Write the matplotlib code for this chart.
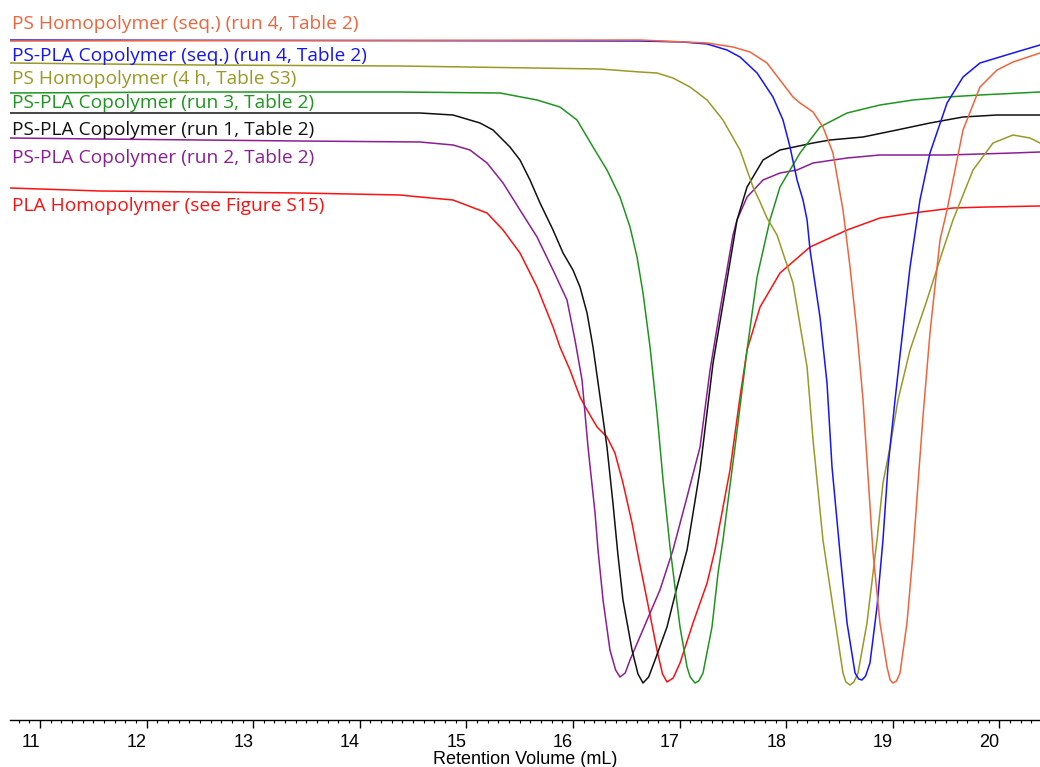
import numpy as np
import matplotlib
matplotlib.use('Agg')
import matplotlib.pyplot as plt
from matplotlib.ticker import MultipleLocator

# retention volume (mL) and detector signal (a.u.)
pla_vol = [10.719, 11.563, 12.501, 13.439, 14.377, 14.565, 14.875, 15.194, 15.344, 15.503, 15.663, 15.813,
           15.878, 15.972, 16.066, 16.132, 16.226, 16.319, 16.394, 16.469, 16.554, 16.610, 16.695, 16.788,
           16.840, 16.882, 16.940, 17.004, 17.126, 17.258, 17.332, 17.473, 17.567, 17.633, 17.755, 17.942,
           18.224, 18.571, 18.880, 19.190, 19.565, 19.884, 20.381]
pla_sig = [53.2, 52.9, 52.8, 52.7, 52.5, 52.3, 52.0, 50.7, 49.0, 46.7, 43.3, 39.3,
           37.3, 35.0, 32.3, 31.0, 29.3, 28.3, 26.7, 23.7, 19.7, 16.5, 12.0, 7.0,
           4.6, 3.8, 4.2, 5.7, 9.7, 13.7, 17.0, 25.0, 32.3, 37.0, 41.3, 44.7,
           47.3, 49.0, 50.2, 50.7, 51.2, 51.3, 51.4]

run2_vol = [10.719, 11.563, 12.501, 13.439, 14.565, 14.875, 15.034, 15.194, 15.344, 15.503, 15.663, 15.813,
            15.944, 16.019, 16.085, 16.141, 16.207, 16.235, 16.282, 16.347, 16.400, 16.441, 16.490, 16.535,
            16.695, 16.816, 16.938, 17.070, 17.192, 17.286, 17.379, 17.501, 17.539, 17.633, 17.783, 17.942,
            18.102, 18.252, 18.571, 18.880, 19.509, 20.128, 20.381]
run2_sig = [58.2, 58.1, 58.0, 57.9, 57.8, 57.5, 57.0, 55.7, 53.7, 51.0, 48.3, 45.0,
            42.0, 38.0, 34.0, 27.3, 20.7, 17.0, 12.0, 7.0, 5.0, 4.3, 4.7, 6.0,
            10.0, 13.0, 17.0, 22.3, 27.3, 35.0, 41.0, 48.5, 50.0, 52.3, 54.0, 54.7,
            55.0, 55.7, 56.2, 56.5, 56.5, 56.7, 56.8]

run1_vol = [10.719, 12.501, 14.565, 14.875, 15.128, 15.250, 15.409, 15.503, 15.597, 15.691, 15.813, 15.907,
            16.000, 16.066, 16.132, 16.188, 16.254, 16.319, 16.375, 16.422, 16.469, 16.554, 16.610, 16.657,
            16.710, 16.770, 16.882, 16.976, 17.070, 17.192, 17.314, 17.445, 17.539, 17.633, 17.783, 17.942,
            18.252, 18.411, 18.721, 19.039, 19.349, 19.659, 19.978, 20.381]
run1_sig = [60.7, 60.7, 60.7, 60.5, 59.7, 59.0, 57.3, 56.0, 54.0, 51.7, 49.0, 46.7,
            45.0, 43.3, 40.7, 37.3, 32.3, 27.3, 21.7, 16.5, 12.0, 7.0, 4.6, 3.7,
            4.3, 6.0, 9.3, 13.3, 17.0, 25.0, 35.7, 44.0, 50.0, 53.3, 56.0, 57.0,
            57.7, 58.0, 58.3, 59.0, 59.7, 60.3, 60.5, 60.5]

run3_vol = [10.719, 12.501, 14.377, 15.316, 15.663, 15.878, 16.038, 16.188, 16.319, 16.441, 16.535, 16.601,
            16.657, 16.723, 16.788, 16.845, 16.910, 17.004, 17.070, 17.100, 17.145, 17.180, 17.220, 17.304,
            17.361, 17.407, 17.520, 17.633, 17.727, 17.848, 17.942, 18.130, 18.317, 18.571, 18.880, 19.190,
            19.509, 19.818, 20.381]
run3_sig = [62.7, 62.8, 62.8, 62.7, 62.0, 61.3, 60.0, 57.3, 55.0, 52.3, 49.3, 46.3,
            42.7, 37.3, 30.7, 24.0, 17.3, 9.3, 5.3, 4.3, 3.7, 3.9, 4.7, 9.3,
            14.7, 18.0, 27.3, 37.0, 44.3, 50.0, 53.3, 56.7, 59.3, 60.7, 61.5, 62.0,
            62.3, 62.5, 62.8]

ps4h_vol = [10.719, 12.501, 14.377, 16.254, 16.629, 16.788, 16.938, 17.098, 17.258, 17.407, 17.567, 17.689,
            17.755, 17.820, 17.914, 18.064, 18.196, 18.252, 18.345, 18.439, 18.533, 18.560, 18.599, 18.635,
            18.674, 18.758, 18.852, 18.908, 18.974, 19.049, 19.162, 19.321, 19.471, 19.565, 19.753, 19.940,
            20.128, 20.287, 20.381]
ps4h_sig = [65.7, 65.5, 65.4, 65.1, 64.8, 64.7, 64.2, 63.3, 62.0, 60.0, 57.0, 53.3,
            51.8, 50.2, 48.5, 43.7, 35.3, 28.0, 18.0, 11.3, 4.7, 3.8, 3.5, 3.8,
            4.7, 9.7, 18.0, 23.7, 27.3, 32.0, 37.0, 42.0, 47.0, 50.0, 55.0, 57.7,
            58.5, 58.2, 57.7]

cop_seq_vol = [10.719, 16.629, 17.032, 17.258, 17.445, 17.567, 17.727, 17.876, 17.970, 18.036, 18.102, 18.158,
               18.196, 18.224, 18.317, 18.383, 18.430, 18.505, 18.571, 18.646, 18.680, 18.711, 18.745, 18.786,
               18.852, 18.908, 18.955, 19.021, 19.068, 19.162, 19.255, 19.349, 19.509, 19.659, 19.818, 20.128,
               20.381]
cop_seq_sig = [68.0, 67.9, 67.8, 67.6, 67.0, 66.3, 64.7, 62.3, 60.0, 57.3, 54.0, 52.0,
               50.0, 47.0, 40.3, 33.7, 25.3, 16.7, 9.7, 4.7, 4.1, 4.0, 4.4, 5.7,
               11.3, 18.0, 25.3, 32.0, 36.5, 45.3, 52.0, 56.7, 61.7, 64.3, 65.7, 66.7,
               67.5]

ps_seq_vol = [10.719, 16.629, 17.258, 17.501, 17.661, 17.820, 17.942, 18.064, 18.130, 18.252, 18.345, 18.439,
              18.533, 18.599, 18.665, 18.721, 18.758, 18.815, 18.880, 18.946, 18.975, 19.002, 19.035, 19.068,
              19.133, 19.190, 19.237, 19.283, 19.349, 19.443, 19.509, 19.659, 19.818, 19.978, 20.128, 20.381]
ps_seq_sig = [67.9, 68.0, 67.7, 67.3, 66.8, 65.7, 64.0, 62.3, 61.7, 60.8, 59.3, 56.7,
              51.0, 45.3, 38.7, 32.0, 26.0, 16.7, 9.7, 5.3, 4.0, 3.7, 3.9, 4.7,
              9.7, 16.7, 23.7, 30.3, 38.7, 48.0, 51.0, 59.0, 63.3, 65.0, 65.8, 66.7]

labels = ['PS Homopolymer (seq.) (run 4, Table 2)',
          'PS-PLA Copolymer (seq.) (run 4, Table 2)',
          'PS Homopolymer (4 h, Table S3)',
          'PS-PLA Copolymer (run 3, Table 2)',
          'PS-PLA Copolymer (run 1, Table 2)',
          'PS-PLA Copolymer (run 2, Table 2)',
          'PLA Homopolymer (see Figure S15)']
colors = ['#f0643c', '#1414ff', '#999926', '#1e961e', '#111111', '#8c1d96', '#ff1010']
traces = [(ps_seq_vol, ps_seq_sig), (cop_seq_vol, cop_seq_sig), (ps4h_vol, ps4h_sig),
          (run3_vol, run3_sig), (run1_vol, run1_sig), (run2_vol, run2_sig), (pla_vol, pla_sig)]
# baseline of each label text, in pixels from the top
label_rows = [29, 61, 84, 108, 135, 163, 211]


def main():
    W, H = 1040, 767
    fig = plt.figure(figsize=(W / 100, H / 100), dpi=100)
    ax = fig.add_axes([10 / W, 47 / H, 1030 / W, 720 / H])

    for (vol, sig), c in zip(traces[::-1], colors[::-1]):
        ax.plot(vol, sig, color=c, lw=1.1)

    ax.set_xlim(10.719, 20.381)
    ax.set_ylim(0, 72)
    for side in ['top', 'right', 'left']:
        ax.spines[side].set_visible(False)
    ax.spines['bottom'].set_linewidth(1.0)
    ax.set_yticks([])

    ax.xaxis.set_major_locator(MultipleLocator(1))
    ax.xaxis.set_minor_locator(MultipleLocator(0.1))
    ax.tick_params(axis='x', which='major', length=6, width=1, direction='out', pad=4,
                   labelsize=13)
    ax.tick_params(axis='x', which='minor', length=2.5, width=0.8, direction='out')
    for lbl in ax.get_xticklabels():
        lbl.set_fontfamily('Liberation Sans')
        lbl.set_horizontalalignment('right')
    ax.set_xlabel('Retention Volume (mL)', fontsize=13, family='Liberation Sans', labelpad=0)

    for text, c, row in zip(labels, colors, label_rows):
        fig.text(12 / W, 1 - row / H, text, color=c, fontsize=13.8, family='Open Sans',
                 va='baseline', ha='left')

    fig.savefig('out.png', dpi=100)


if __name__ == '__main__':
    main()
